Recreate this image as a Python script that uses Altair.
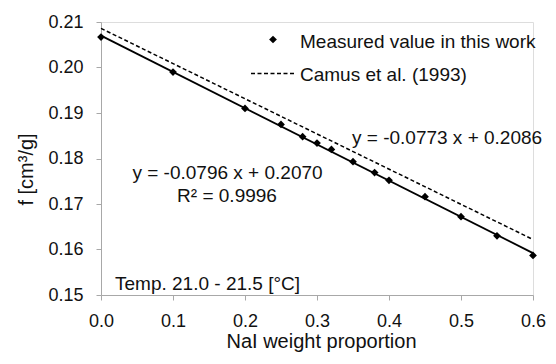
import altair as alt
import pandas as pd

# ---- data ----
nai_x = [0.00, 0.10, 0.20, 0.25, 0.28, 0.30, 0.32, 0.35, 0.38, 0.40, 0.45, 0.50, 0.55, 0.60]
f_meas = [0.2067, 0.1990, 0.1910, 0.1875, 0.1848, 0.1834, 0.1820, 0.1793, 0.1769, 0.1752, 0.1716, 0.1672, 0.1630, 0.1587]
fit_x = [0.0, 0.6]
fit_y = [0.2070, 0.1592]
camus_x = [0.0, 0.6]
camus_y = [0.2086, 0.1622]
x_ticks = [0.0, 0.1, 0.2, 0.3, 0.4, 0.5, 0.6]
y_ticks = [0.15, 0.16, 0.17, 0.18, 0.19, 0.20, 0.21]
legend_labels = ["Measured value in this work", "Camus et al. (1993)"]
eq_this = ["y = -0.0796 x + 0.2070", "R² = 0.9996"]
eq_camus = "y = -0.0773 x + 0.2086"
temp_label = "Temp. 21.0 - 21.5 [°C]"

FONT = "Liberation Sans"
FS_TICK = 18
FS_TITLE = 20
FS_TXT = 19

W, H = 432, 273

meas = pd.DataFrame({"x": nai_x, "f": f_meas})
fit = pd.DataFrame({"x": fit_x, "f": fit_y})
camus = pd.DataFrame({"x": camus_x, "f": camus_y})
one = pd.DataFrame({"a": [0]})

xs = alt.Scale(domain=[0, 0.6], nice=False, zero=False)
ys = alt.Scale(domain=[0.15, 0.21], nice=False, zero=False)

common = dict(grid=False, domainColor="#a8a8a8", tickColor="#a8a8a8", tickSize=5,
              labelFontSize=FS_TICK, titleFontSize=FS_TITLE, labelFont=FONT, titleFont=FONT,
              titleFontWeight="normal", labelColor="#111", titleColor="#111",
              labelFlush=False, labelOverlap=False)

x_axis = alt.Axis(values=x_ticks, format=".1f", title="NaI weight proportion",
                  labelPadding=12, titleX=220, titleY=52, titleBaseline="alphabetic",
                  titleAlign="center", **common)
y_axis = alt.Axis(values=y_ticks, format=".2f", title="f [cm³/g]",
                  labelPadding=13, titleX=-75, titleY=147, titleBaseline="middle",
                  titleAlign="center", titleAngle=-90, **common)

camus_line = alt.Chart(camus).mark_line(color="black", strokeWidth=1.5, strokeDash=[4, 2.5]).encode(
    x=alt.X("x:Q", scale=xs, axis=x_axis),
    y=alt.Y("f:Q", scale=ys, axis=y_axis),
)
fit_line = alt.Chart(fit).mark_line(color="black", strokeWidth=1.8).encode(
    x=alt.X("x:Q", scale=xs), y=alt.Y("f:Q", scale=ys))
points = alt.Chart(meas).mark_point(shape="diamond", filled=True, color="black", size=60, opacity=1).encode(
    x=alt.X("x:Q", scale=xs), y=alt.Y("f:Q", scale=ys))

def txt(s, x, y, align="left"):
    return alt.Chart(one).mark_text(text=s, font=FONT, fontSize=FS_TXT, color="#111",
                                    align=align, baseline="alphabetic").encode(
        x=alt.value(x), y=alt.value(y))

leg_pt = alt.Chart(one).mark_point(shape="diamond", filled=True, color="black", size=60, opacity=1).encode(
    x=alt.value(172), y=alt.value(17.5))
leg_dash = alt.Chart(one).mark_rule(color="black", strokeWidth=1.5, strokeDash=[4, 2.5]).encode(
    x=alt.value(150), x2=alt.value(194), y=alt.value(51.5))

chart = alt.layer(
    camus_line, fit_line, points,
    leg_pt, leg_dash,
    txt(legend_labels[0], 199, 25.5),
    txt(legend_labels[1], 199, 58.5),
    txt(eq_this[0], 126.5, 156.5, "center"),
    txt(eq_this[1], 126, 179.5, "center"),
    txt(eq_camus, 251, 121.5),
    txt(temp_label, 14, 267.5),
).properties(
    width=W, height=H,
    autosize=alt.AutoSizeParams(type="none"),
    padding={"left": 101, "top": 22, "right": 23, "bottom": 69},
).configure_view(stroke=None).configure(background="white")

chart.save("out.html", embed_options={"renderer": "svg", "actions": False})
